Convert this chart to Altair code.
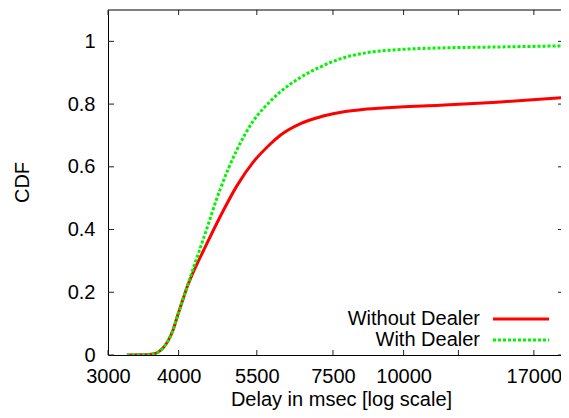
import altair as alt
import pandas as pd

# ---- data ----
series_names = ["Without Dealer", "With Dealer"]
series_colors = ["#ff0000", "#00f500"]

delay_without = [3240, 3502, 3604, 3678, 3753, 3831, 3910, 3990, 4072, 4139, 4224, 4311,
                 4418, 4734, 5074, 5415, 5804, 6045, 6558, 7114, 7718, 8616, 9854,
                 11598, 14630, 19620]
cdf_without = [0.0, 0.0005, 0.003, 0.009, 0.022, 0.045, 0.08, 0.13, 0.178, 0.216, 0.255,
               0.29, 0.33, 0.44, 0.54, 0.614, 0.672, 0.70, 0.737, 0.759, 0.773, 0.784,
               0.791, 0.796, 0.806, 0.822]

delay_with = [3240, 3502, 3604, 3678, 3753, 3831, 3910, 3990, 4072, 4139, 4224,
              4418, 4734, 5074, 5415, 5804, 6045, 6558, 7114, 7718, 8616, 9854,
              11598, 14630, 19620]
cdf_with = [0.0, 0.0005, 0.003, 0.009, 0.022, 0.045, 0.08, 0.13, 0.178, 0.217, 0.265,
            0.367, 0.527, 0.655, 0.745, 0.808, 0.838, 0.884, 0.918, 0.944, 0.964, 0.974,
            0.979, 0.982, 0.986]

x_tick_values = [3000, 4000, 5500, 7500, 10000, 12500, 17000]
x_tick_labels = ["3000", "4000", "5500", "7500", "10000", "", "17000"]
y_tick_values = [0, 0.2, 0.4, 0.6, 0.8, 1.0]
x_domain = [3000, 18985]   # the reference's plot runs off the right edge
y_domain = [0, 1.1]

x_title = "Delay in msec [log scale]"
y_title = "CDF"

# ---- layout / style ----
W, H = 453, 345
FONT = "Liberation Sans"
FS = 20

df_without = pd.DataFrame({"delay": delay_without, "cdf": cdf_without})
df_with = pd.DataFrame({"delay": delay_with, "cdf": cdf_with})
df_xt = pd.DataFrame({"delay": x_tick_values})
df_yt = pd.DataFrame({"cdf": y_tick_values})
df_leg_red = pd.DataFrame({"label": [series_names[0]]})
df_leg_green = pd.DataFrame({"label": [series_names[1]]})

xscale = alt.Scale(type="log", domain=x_domain, nice=False)
yscale = alt.Scale(domain=y_domain, nice=False, zero=False)

label_expr = ("[" + ",".join(f"'{l}'" for l in x_tick_labels) + "][indexof(["
              + ",".join(str(v) for v in x_tick_values) + "], datum.value)]")

x_axis = alt.Axis(values=x_tick_values, format="d", labelExpr=label_expr, tickSize=0,
                  ticks=False, grid=False, domainColor="black", domainWidth=1,
                  labelFont=FONT, labelFontSize=FS, labelColor="black", labelPadding=11,
                  labelFlush=False, labelOverlap=False, title=x_title,
                  titleFont=FONT, titleFontSize=FS, titleFontWeight="normal",
                  titleColor="black", titleX=233, titleY=50, titleAlign="center",
                  titleBaseline="alphabetic")
y_axis = alt.Axis(values=y_tick_values, format="~g", tickSize=0, ticks=False, grid=False,
                  domainColor="black", domainWidth=1, labelFont=FONT, labelFontSize=FS,
                  labelColor="black", labelPadding=13, labelFlush=False,
                  labelOverlap=False, title=y_title, titleFont=FONT, titleFontSize=FS,
                  titleFontWeight="normal", titleColor="black", titleX=-86, titleY=172,
                  titleAngle=-90, titleAlign="center", titleBaseline="middle")

X = alt.X("delay:Q", scale=xscale, axis=x_axis)
Y = alt.Y("cdf:Q", scale=yscale, axis=y_axis)

line_red = alt.Chart(df_without).mark_line(
    color=series_colors[0], strokeWidth=3, interpolate="monotone", clip=True
).encode(x=X, y=Y)

line_green = alt.Chart(df_with).mark_line(
    color=series_colors[1], strokeWidth=3, strokeDash=[3, 2], interpolate="monotone", clip=True
).encode(x=X, y=Y)

# inward ticks (gnuplot style), mirrored on top and right
tick_color = "#222222"
xt_bottom = alt.Chart(df_xt).mark_rule(color=tick_color, strokeWidth=1).encode(
    x=X, y=alt.value(H), y2=alt.value(H - 5))
xt_top = alt.Chart(df_xt).mark_rule(color=tick_color, strokeWidth=1).encode(
    x=X, y=alt.value(0), y2=alt.value(5))
yt_left = alt.Chart(df_yt).mark_rule(color=tick_color, strokeWidth=1).encode(
    y=Y, x=alt.value(0), x2=alt.value(6))
yt_right = alt.Chart(df_yt).mark_rule(color=tick_color, strokeWidth=1).encode(
    y=Y, x=alt.value(W - 3), x2=alt.value(W))

top_border = alt.Chart(df_leg_red).mark_rule(color="black", strokeWidth=1).encode(
    x=alt.value(0), x2=alt.value(W), y=alt.value(0))

# legend (labels left, samples right, as in gnuplot)
leg_text_x = 372
leg_line_x1, leg_line_x2 = 385, 441
leg_rows_y = [309, 330]

leg_text_red = alt.Chart(df_leg_red).mark_text(
    align="right", baseline="middle", font=FONT, fontSize=FS, color="black"
).encode(text="label:N", x=alt.value(leg_text_x), y=alt.value(leg_rows_y[0]))
leg_text_green = alt.Chart(df_leg_green).mark_text(
    align="right", baseline="middle", font=FONT, fontSize=FS, color="black"
).encode(text="label:N", x=alt.value(leg_text_x), y=alt.value(leg_rows_y[1]))
leg_line_red = alt.Chart(df_leg_red).mark_rule(color=series_colors[0], strokeWidth=3).encode(
    x=alt.value(leg_line_x1), x2=alt.value(leg_line_x2), y=alt.value(leg_rows_y[0]))
leg_line_green = alt.Chart(df_leg_green).mark_rule(
    color=series_colors[1], strokeWidth=3, strokeDash=[3, 2]).encode(
    x=alt.value(leg_line_x1), x2=alt.value(leg_line_x2), y=alt.value(leg_rows_y[1]))

chart = alt.layer(
    line_red, line_green, xt_bottom, xt_top, yt_left, yt_right, top_border,
    leg_text_red, leg_text_green, leg_line_red, leg_line_green
).properties(
    width=W, height=H,
    padding={"left": 100, "top": 2, "right": 0, "bottom": 55},
    autosize=alt.AutoSizeParams(type="none"),
    background="white",
).configure_view(stroke=None)

chart.save("out.html", embed_options={"renderer": "svg", "actions": False})
